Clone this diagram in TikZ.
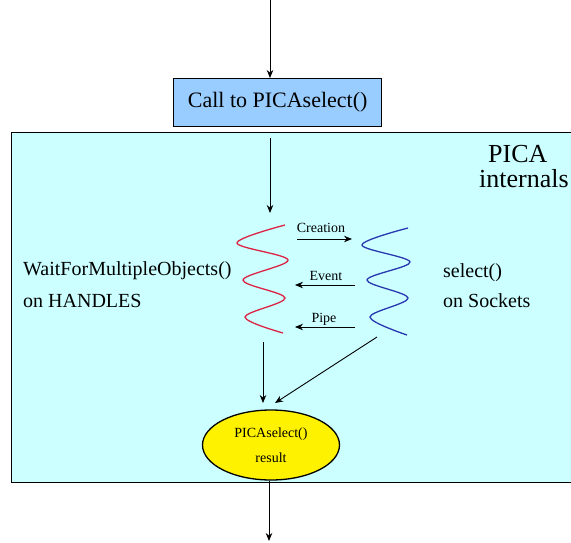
\documentclass[tikz,border=0pt]{standalone}
\usepackage{fontspec}
\setmainfont{Liberation Serif}
\usetikzlibrary{arrows.meta,shapes.geometric}
\definecolor{callblue}{HTML}{99CCFF}
\definecolor{panelcyan}{HTML}{CCFFFF}
\definecolor{wavered}{HTML}{DC2445}
\definecolor{waveblue}{HTML}{2838B0}
\begin{document}
\begin{tikzpicture}[x=1pt,y=-1pt,
  >={Stealth[length=8pt,width=6.5pt]},
  flow/.style={->, line width=0.9pt},
  bigtext/.style={font=\fontsize{20}{20}\selectfont, inner sep=0pt, anchor=base west},
  msgtext/.style={font=\fontsize{14}{14}\selectfont, inner sep=0pt, anchor=base},
  titletext/.style={font=\fontsize{26}{26}\selectfont, inner sep=0pt, anchor=base west},
  wave/.style={line width=1.3pt, smooth, tension=0.55}]
\useasboundingbox (0,0) rectangle (571,542);
\begin{scope}
\clip (0,0) rectangle (571,542);
% internals panel (runs past the right edge)
\node (panel) [draw, fill=panelcyan, line width=1.4pt, anchor=north west,
  minimum width=580pt, minimum height=350pt, inner sep=0pt] at (11,132) {};
\end{scope}

% entry call
\node (call) [draw, fill=callblue, line width=1.3pt, anchor=north west,
  minimum width=208pt, minimum height=48pt, inner sep=0pt,
  font=\fontsize{22}{22}\selectfont] at (173,78) {Call to PICAselect()};
\coordinate (entry) at (270,0);
\draw[flow] (entry) -- (entry |- call.north);

% panel title
\node (pica) [titletext] at (488,162) {PICA};
\node (internals) [titletext] at (479,187) {internals};

% descent into the panel
\coordinate (dstart) at (270,138);
\coordinate (dend) at (270,213);
\draw[flow] (dstart) -- (dend);

% the two waiting threads
\draw[wave, wavered] plot coordinates {(285,225) (237,243) (288,260) (243,280) (285,298) (245,317) (283,333)};
\draw[wave, waveblue] plot coordinates {(408,228) (362,245) (410,262) (367,280) (408,298) (370,317) (407,335)};

% messages between the threads
\coordinate (cl) at (297,239); \coordinate (cr) at (352,239);
\coordinate (el) at (295,285); \coordinate (er) at (355,285);
\coordinate (pl) at (295,327); \coordinate (pr) at (355,327);
\draw[flow] (cl) -- (cr);
\draw[flow] (er) -- (el);
\draw[flow] (pr) -- (pl);
\node (creation) [msgtext] at (321,232) {Creation};
\node (event) [msgtext] at (326,280) {Event};
\node (pipe) [msgtext] at (324,322) {Pipe};

% side descriptions
\node (wfmo) [bigtext] at (23,275) {WaitForMultipleObjects()};
\node (handles) [bigtext] at (23,307) {on HANDLES};
\node (sel) [bigtext] at (443,277) {select()};
\node (sockets) [bigtext] at (443,307) {on Sockets};

% result
\node (res) [ellipse, draw, fill=yellow, line width=1.3pt, inner sep=0pt,
  minimum width=137pt, minimum height=70pt, align=center,
  font=\fontsize{14}{25}\selectfont] at (271,445) {PICAselect()\\result};
\coordinate (redfoot) at (263,342);
\coordinate (bluefoot) at (377,337);
\coordinate (rtipa) at (263,403);
\coordinate (rtipb) at (275,403);
\draw[flow] (redfoot) -- (rtipa);
\draw[flow] (bluefoot) -- (rtipb);

% exit
\coordinate (exitend) at (269,541);
\draw[flow] (res.south -| exitend) -- (exitend);
\end{tikzpicture}
\end{document}
